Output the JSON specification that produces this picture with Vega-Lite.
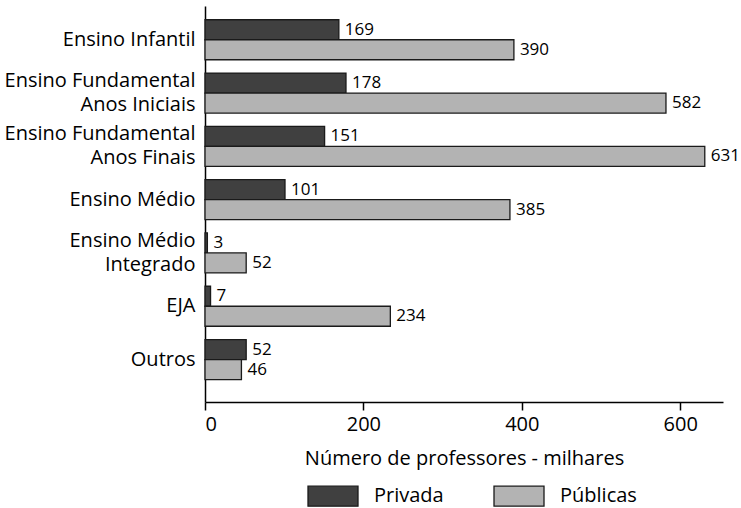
{
  "$schema": "https://vega.github.io/schema/vega-lite/v6.json",
  "autosize": "none",
  "width": 518,
  "height": 396,
  "padding": {"left": 205, "top": 6, "right": 18, "bottom": 106},
  "background": "white",
  "config": {
    "font": "Open Sans",
    "view": {"stroke": null},
    "axis": {"labelFont": "Open Sans", "titleFont": "Open Sans", "labelColor": "#000", "titleColor": "#000", "domainColor": "#000", "tickColor": "#000"},
    "legend": {"labelFont": "Open Sans"}
  },
  "data": {
    "values": [
      {"cat": "Ensino Infantil", "tipo": "Privada", "v": 169},
      {"cat": "Ensino Infantil", "tipo": "Públicas", "v": 390},
      {"cat": "Ensino Fundamental|Anos Iniciais", "tipo": "Privada", "v": 178},
      {"cat": "Ensino Fundamental|Anos Iniciais", "tipo": "Públicas", "v": 582},
      {"cat": "Ensino Fundamental|Anos Finais", "tipo": "Privada", "v": 151},
      {"cat": "Ensino Fundamental|Anos Finais", "tipo": "Públicas", "v": 631},
      {"cat": "Ensino Médio", "tipo": "Privada", "v": 101},
      {"cat": "Ensino Médio", "tipo": "Públicas", "v": 385},
      {"cat": "Ensino Médio|Integrado", "tipo": "Privada", "v": 3},
      {"cat": "Ensino Médio|Integrado", "tipo": "Públicas", "v": 52},
      {"cat": "EJA", "tipo": "Privada", "v": 7},
      {"cat": "EJA", "tipo": "Públicas", "v": 234},
      {"cat": "Outros", "tipo": "Privada", "v": 52},
      {"cat": "Outros", "tipo": "Públicas", "v": 46}
    ]
  },
  "encoding": {
    "y": {
      "field": "cat", "type": "nominal", "sort": null,
      "scale": {"paddingInner": 0.25, "paddingOuter": 0.34, "align": 0.38},
      "axis": {"title": null, "ticks": false, "labelPadding": 10, "labelFontSize": 20, "labelLineHeight": 24, "labelExpr": "split(datum.label, '|')", "labelOffset": {"condition": {"test": "indexof(datum.value, '|') >= 0", "value": -12}, "value": 0}, "domainWidth": 1.5, "labelLimit": 300}
    },
    "yOffset": {"field": "tipo", "type": "nominal", "sort": ["Privada", "Públicas"], "scale": {"paddingInner": 0, "paddingOuter": 0}},
    "x": {
      "field": "v", "type": "quantitative",
      "scale": {"domain": [0, 654], "nice": false},
      "axis": {"values": [0, 200, 400, 600], "grid": false, "title": "Número de professores - milhares", "titleFontSize": 20, "titleFontWeight": "normal", "titlePadding": 14, "labelFontSize": 20, "tickSize": 8, "tickWidth": 1.5, "domainWidth": 1.5, "labelPadding": 4}
    }
  },
  "layer": [
    {
      "mark": {"type": "bar", "strokeWidth": 1.3, "stroke": "#1a1a1a"},
      "encoding": {
        "color": {
          "field": "tipo", "type": "nominal",
          "scale": {"domain": ["Privada", "Públicas"], "range": ["#404040", "#b3b3b3"]},
          "legend": {
            "title": null, "orient": "none", "direction": "horizontal",
            "legendX": 117, "legendY": 479,
            "symbolType": "M-2.5,-1H2.5V1H-2.5Z", "symbolSize": 400,
            "symbolStrokeColor": "#1a1a1a", "symbolStrokeWidth": 1.3,
            "labelFontSize": 20, "labelOffset": 30, "columnPadding": 47
          }
        }
      }
    },
    {
      "mark": {"type": "text", "align": "left", "baseline": "middle", "dx": 6, "fontSize": 17, "color": "#000"},
      "encoding": {"text": {"field": "v", "type": "quantitative"}}
    }
  ]
}
